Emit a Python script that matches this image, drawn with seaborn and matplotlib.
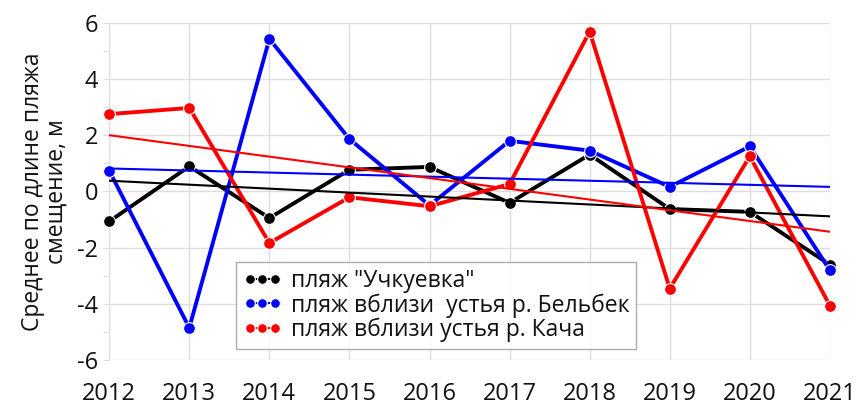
import matplotlib.pyplot as plt
import seaborn as sns
import pandas as pd
import numpy as np
from matplotlib.ticker import MultipleLocator

plt.switch_backend('Agg')

years = [2012, 2013, 2014, 2015, 2016, 2017, 2018, 2019, 2020, 2021]
uchkuevka = [-1.07, 0.89, -0.95, 0.77, 0.87, -0.41, 1.31, -0.63, -0.73, -2.61]
belbek = [0.74, -4.86, 5.43, 1.86, -0.50, 1.80, 1.45, 0.16, 1.60, -2.81]
kacha = [2.75, 2.97, -1.84, -0.21, -0.53, 0.26, 5.69, -3.46, 1.25, -4.07]

labels = ['пляж "Учкуевка"', 'пляж вблизи  устья р. Бельбек', 'пляж вблизи устья р. Кача']
colors = ['#000000', '#0000ff', '#ff0000']
series = [uchkuevka, belbek, kacha]

df = pd.concat([pd.DataFrame({'year': years, 'value': s, 'beach': lab})
                for s, lab in zip(series, labels)], ignore_index=True)

sns.set_style('white')
plt.rcParams['font.family'] = ['Open Sans', 'DejaVu Sans']
plt.rcParams['axes.unicode_minus'] = False
plt.rcParams['text.color'] = '#111111'
plt.rcParams['axes.labelcolor'] = '#111111'
plt.rcParams['xtick.labelcolor'] = '#111111'
plt.rcParams['ytick.labelcolor'] = '#111111'

fig = plt.figure(figsize=(8.6, 4.08), dpi=100)
ax = fig.add_axes([0.127, 0.118, 0.838, 0.826])

sns.lineplot(data=df, x='year', y='value', hue='beach', palette=colors,
             hue_order=labels, marker='o', markersize=8.5, markeredgecolor='white',
             markeredgewidth=0.8, linewidth=2.8, ax=ax, clip_on=False, zorder=3)

# linear trend lines
for s, c in zip(series, colors):
    sns.regplot(x=np.array(years), y=np.array(s), scatter=False, ci=None,
                truncate=True, color=c, line_kws={'linewidth': 1.5, 'zorder': 4}, ax=ax)

ax.set_xlim(2012, 2021)
ax.set_ylim(-6, 6)
ax.xaxis.set_major_locator(MultipleLocator(1))
ax.yaxis.set_major_locator(MultipleLocator(2))
ax.yaxis.set_minor_locator(MultipleLocator(1))
ax.grid(True, which='major', color='#dddddd', linewidth=1.0)
ax.set_axisbelow(True)
for side in ['top', 'right', 'bottom']:
    ax.spines[side].set_visible(False)
ax.spines['left'].set_color('#dddddd')
ax.tick_params(axis='x', length=8, color='#dddddd', labelsize=17, pad=8)
ax.tick_params(axis='y', which='major', left=True, length=4, color='#dddddd',
               labelsize=17, pad=4)
ax.tick_params(axis='y', which='minor', length=4, color='#dddddd', left=True)
ax.set_xlabel('')
ax.set_ylabel('Среднее по длине пляжа\nсмещение, м', fontsize=16.5, labelpad=6,
              linespacing=1.0)

leg = ax.legend(loc='lower left', bbox_to_anchor=(0.176, 0.033), fontsize=16.5,
                frameon=True, fancybox=False, edgecolor='#999999', numpoints=3,
                handlelength=1.7, handletextpad=0.4, borderpad=0.3, labelspacing=0.0,
                borderaxespad=0)
for h in leg.legend_handles:
    h.set_markersize(7)
    h.set_linewidth(1.5)
leg.get_frame().set_linewidth(1.0)

fig.savefig('out.png', dpi=100)
